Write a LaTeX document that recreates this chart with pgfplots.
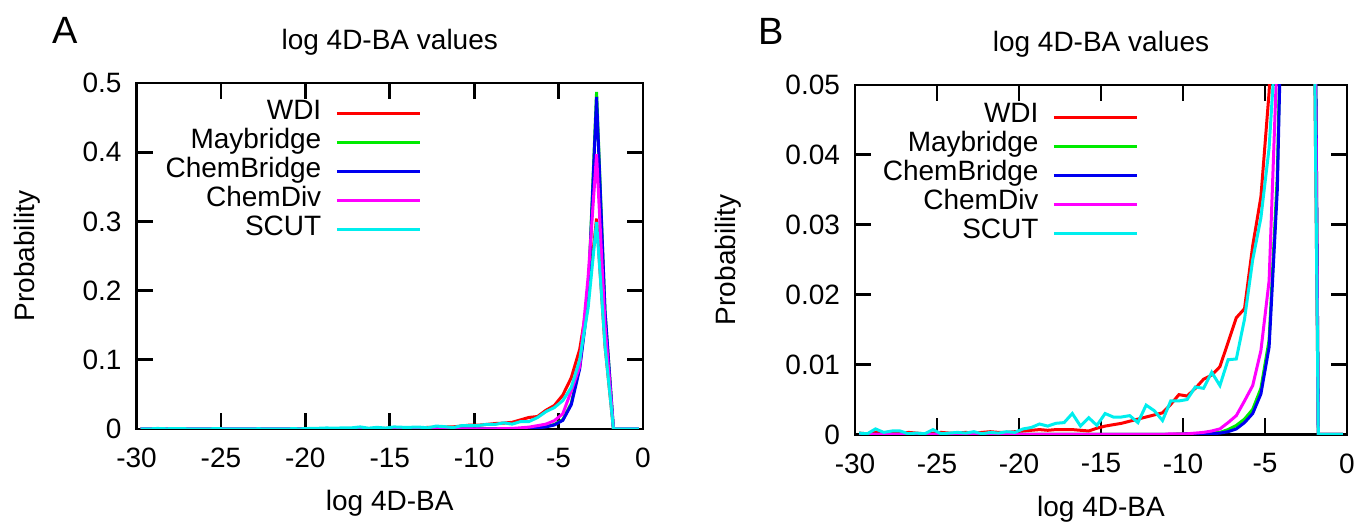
\documentclass[border=0pt]{standalone}
\usepackage{pgfplots}
\pgfplotsset{compat=1.18}
\usepackage{pgfplotstable}
\usepackage{fontspec}
\setmainfont{Liberation Sans}
\definecolor{gpred}{RGB}{255,0,0}
\definecolor{gpgreen}{RGB}{0,235,0}
\definecolor{gpblue}{RGB}{0,0,240}
\definecolor{gpmag}{RGB}{255,0,255}
\definecolor{gpcyan}{RGB}{0,238,238}

\pgfplotstableread{
x      wdi     may     cb      cd      scut
-29.75 0.0002  0       0       0       0.0002
-29.25 0.0001  0       0       0       0.0001
-28.75 0.0003  0       0       0       0.0008
-28.25 0.0002  0       0       0       0.0003
-27.75 0.0002  0       0       0       0.0005
-27.25 0.0001  0       0       0       0.0005
-26.75 0.0003  0       0       0       0.0001
-26.25 0.0002  0       0       0       0.0002
-25.75 0.0001  0       0       0       0.0001
-25.25 0.0002  0       0       0       0.0007
-24.75 0.0003  0       0       0       0.0001
-24.25 0.0002  0       0       0       0.0002
-23.75 0.0002  0       0       0       0.0003
-23.25 0.0003  0       0       0       0.0002
-22.75 0.0002  0       0       0       0.0004
-22.25 0.0003  0       0       0       0.0001
-21.75 0.0004  0       0       0       0.0003
-21.25 0.0003  0       0       0       0.0002
-20.75 0.0003  0       0       0       0.0004
-20.25 0.0004  0       0       0       0.0003
-19.75 0.0005  0       0       0       0.0008
-19.25 0.0006  0       0       0       0.0010
-18.75 0.0007  0       0       0       0.0015
-18.25 0.0006  0       0       0       0.0012
-17.75 0.0007  0       0       0       0.0016
-17.25 0.0007  0       0       0       0.0017
-16.75 0.0007  0       0       0       0.0030
-16.25 0.0006  0       0       0       0.0012
-15.75 0.0005  0       0       0       0.0024
-15.25 0.0009  0       0       0       0.0013
-14.75 0.0012  0       0       0       0.0030
-14.25 0.0014  0       0       0       0.0025
-13.75 0.0016  0       0       0       0.0025
-13.25 0.0019  0       0       0       0.0027
-12.75 0.0022  0       0       0       0.0017
-12.25 0.0025  0       0       0       0.0042
-11.75 0.0028  0       0       0       0.0034
-11.25 0.0031  0       0       0       0.0020
-10.75 0.0043  0       0       0.0001  0.0048
-10.25 0.0057  0.0001  0       0.0001  0.0048
-9.75  0.0055  0.0001  0.0001  0.0001  0.0050
-9.25  0.0066  0.0001  0.0001  0.0002  0.0068
-8.75  0.0079  0.0001  0.0001  0.0003  0.0066
-8.25  0.0085  0.0002  0.0001  0.0005  0.0089
-7.75  0.0097  0.0003  0.0002  0.0008  0.0070
-7.25  0.0132  0.0007  0.0004  0.0017  0.0107
-6.75  0.0167  0.0013  0.0008  0.0027  0.0108
-6.25  0.0180  0.0022  0.0017  0.0048  0.0165
-5.75  0.0270  0.0036  0.0030  0.0070  0.0250
-5.25  0.0340  0.0066  0.0058  0.0120  0.0310
-4.75  0.0490  0.0135  0.0125  0.0220  0.0410
-4.25  0.0740  0.0370  0.0350  0.0550  0.0600
-3.75  0.1150  0.0900  0.0870  0.0900  0.1000
-3.25  0.1900  0.1900  0.1850  0.2200  0.1750
-2.75  0.3040  0.4870  0.4800  0.3970  0.2990
-2.25  0.1200  0.1700  0.1700  0.1500  0.1200
-1.75  0       0       0       0       0
-1.25  0       0       0       0       0
-0.75  0       0       0       0       0
-0.25  0       0       0       0       0
}\datatable

\pgfplotsset{
  gp/.style={
    scale only axis,
    clip mode=individual,
    xmin=-30, xmax=0, ymin=0,
    xtick={-30,-25,-20,-15,-10,-5,0},
    tick align=inside,
    major tick length=8pt,
    axis line style={line width=1.4pt},
    tick style={line width=1.4pt, black},
    font=\fontsize{14}{16.8}\selectfont,
    /pgf/number format/assume math mode=true,
    scaled y ticks=false,
    yticklabel style={/pgf/number format/fixed, xshift=-4pt},
    xticklabel style={yshift=-6pt},
    title={log 4D-BA values},
    title style={at={(axis description cs:0.5,1)}, anchor=base, yshift=10.75pt},
    xlabel={log 4D-BA},
    xlabel style={at={(axis description cs:0.5,0)}, anchor=base, yshift=-41pt},
    ylabel={Probability},
    legend plot pos=right,
    legend cell align=right,
    legend style={draw=none, fill=none, inner sep=0pt, row sep=0pt, anchor=north east,
      nodes={inner sep=0pt, text height=10pt, text depth=4.5pt}},
    legend image code/.code={\path (0pt,0pt); \draw[##1] (7pt,0pt) -- (48.5pt,0pt);},
    every axis plot/.append style={line width=1.5pt, no marks},
  }
}

\begin{document}
\begin{tikzpicture}
\useasboundingbox (0,0) rectangle (679pt,261pt);
\begin{axis}[gp,
  at={(68.25pt,46.5pt)}, anchor=south west,
  width=253.25pt, height=173pt,
  ymax=0.5, ytick={0,0.1,0.2,0.3,0.4,0.5},
  ylabel style={at={(axis description cs:-0.215,0.5)}, anchor=center},
  legend style={at={(axis description cs:0.563,0.954)}},
]
\addplot[gpred]   table[x=x,y=wdi]  {\datatable};
\addplot[gpgreen] table[x=x,y=may]  {\datatable};
\addplot[gpblue]  table[x=x,y=cb]   {\datatable};
\addplot[gpmag]   table[x=x,y=cd]   {\datatable};
\addplot[gpcyan]  table[x=x,y=scut] {\datatable};
\legend{WDI,Maybridge,ChemBridge,ChemDiv,SCUT}
\node[font=\fontsize{19}{22}\selectfont] at (axis description cs:-0.14,1.153) {A};
\end{axis}
\begin{axis}[gp,
  at={(427.5pt,43.75pt)}, anchor=south west,
  width=246pt, height=174.75pt,
  ymax=0.05, ytick={0,0.01,0.02,0.03,0.04,0.05},
  ylabel style={at={(axis description cs:-0.258,0.5)}, anchor=center},
  legend style={at={(axis description cs:0.577,0.95)}},
]
\addplot[gpred]   table[x=x,y=wdi]  {\datatable};
\addplot[gpgreen] table[x=x,y=may]  {\datatable};
\addplot[gpblue]  table[x=x,y=cb]   {\datatable};
\addplot[gpmag]   table[x=x,y=cd]   {\datatable};
\addplot[gpcyan]  table[x=x,y=scut] {\datatable};
\legend{WDI,Maybridge,ChemBridge,ChemDiv,SCUT}
\node[font=\fontsize{19}{22}\selectfont] at (axis description cs:-0.171,1.152) {B};
\end{axis}
\end{tikzpicture}
\end{document}
